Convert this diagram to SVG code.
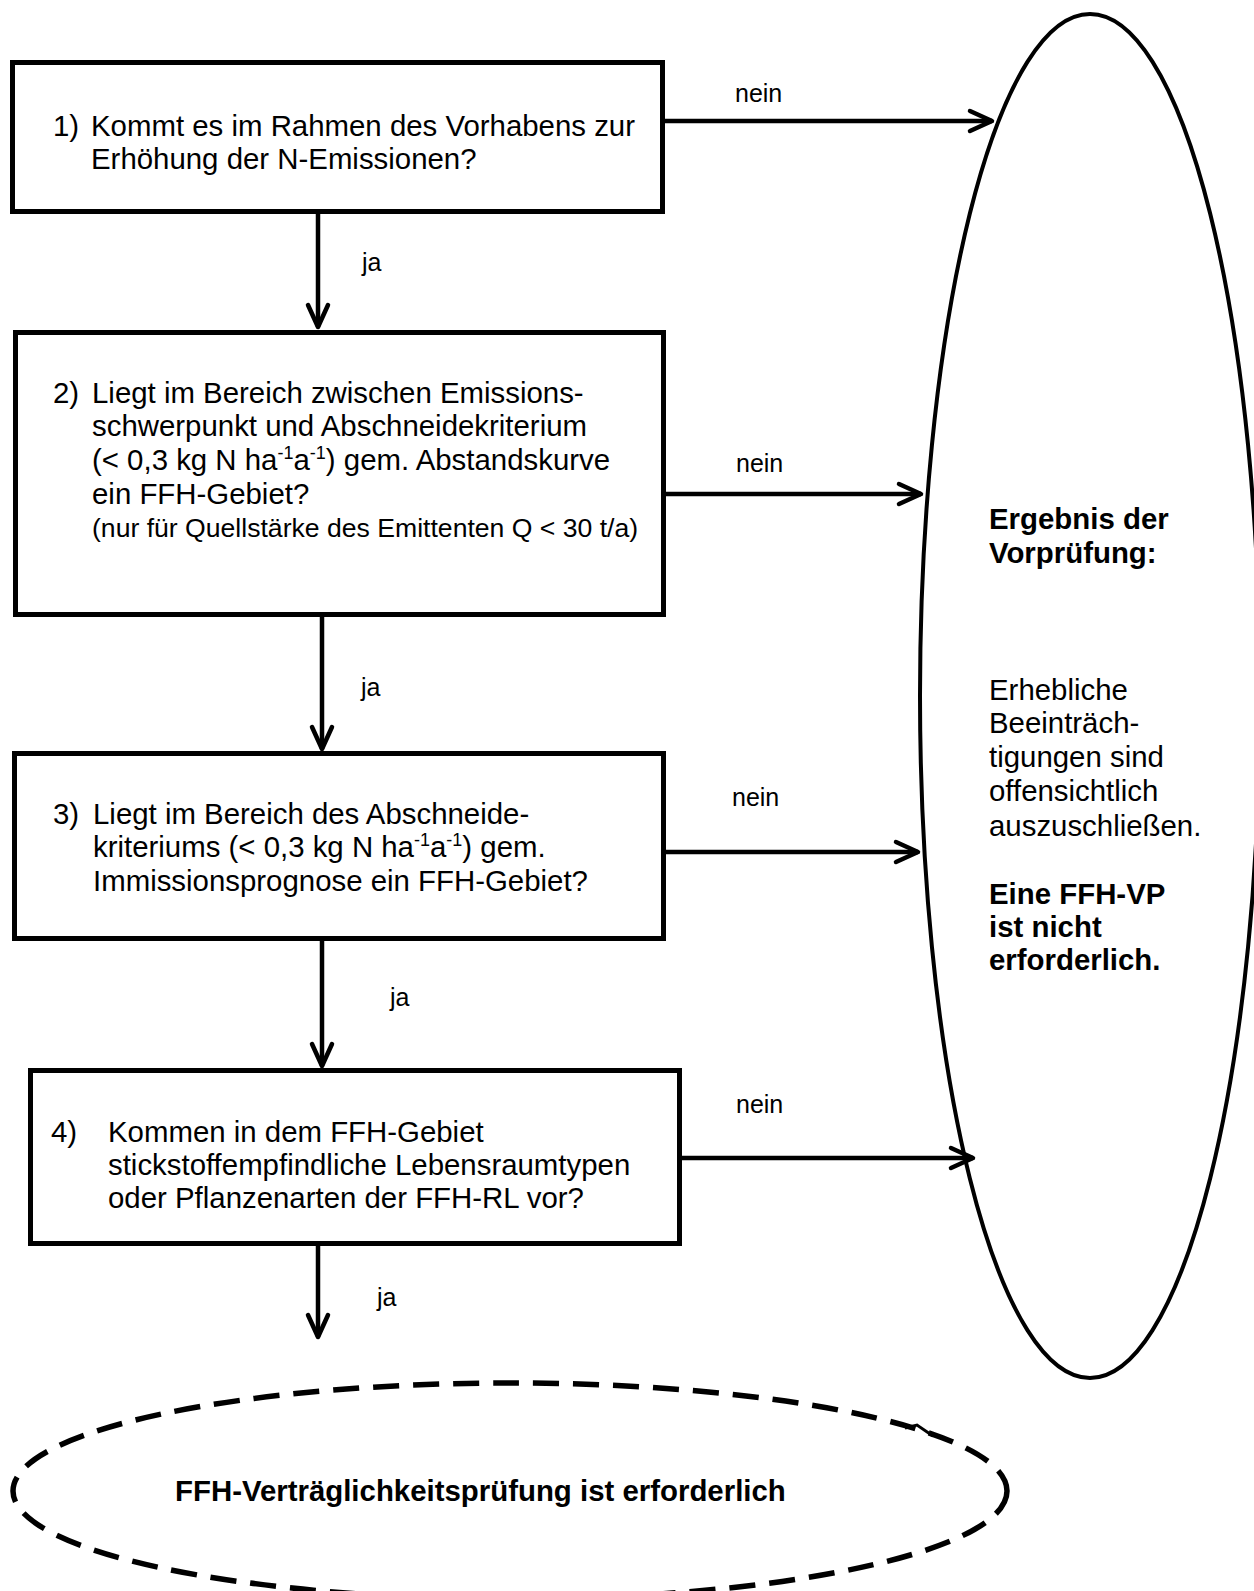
<svg xmlns="http://www.w3.org/2000/svg" width="1254" height="1591" viewBox="0 0 1254 1591">
<style>
.box{fill:#fff;stroke:#000;stroke-width:5}
.t{font-family:"Liberation Sans",Arial,sans-serif;font-size:29.4px;fill:#000}
.sm{font-size:26.6px}
.lbl{font-family:"Liberation Sans",Arial,sans-serif;font-size:25px;fill:#000}
.b{font-weight:bold}
.sup{font-size:18px}
.conn{stroke:#000;stroke-width:4.5;fill:none;marker-end:url(#chev)}
.oval{fill:none;stroke:#000;stroke-width:4}
.dash{fill:none;stroke:#000;stroke-width:5.5;stroke-dasharray:26 14}
</style>
<defs>
<marker id="chev" markerUnits="userSpaceOnUse" markerWidth="40" markerHeight="40" viewBox="-30 -20 40 40" refX="0" refY="0" orient="auto" overflow="visible">
<path d="M -22 -10 L 0 0 L -22 10" fill="none" stroke="#000" stroke-width="4.5" stroke-linecap="round" stroke-linejoin="round"/>
</marker>
</defs>

<g id="result">
<ellipse class="oval" cx="1090" cy="696" rx="170" ry="682"/>
<text class="t b" x="989" y="529">Ergebnis der</text>
<text class="t b" x="989" y="563">Vorprüfung:</text>
<text class="t" x="989" y="700">Erhebliche</text>
<text class="t" x="989" y="733">Beeinträch-</text>
<text class="t" x="989" y="767">tigungen sind</text>
<text class="t" x="989" y="801">offensichtlich</text>
<text class="t" x="989" y="836">auszuschließen.</text>
<text class="t b" x="989" y="904">Eine FFH-VP</text>
<text class="t b" x="989" y="937">ist nicht</text>
<text class="t b" x="989" y="970">erforderlich.</text>
</g>

<g id="q1">
<rect class="box" x="12.5" y="62.5" width="650" height="149"/>
<text class="t" x="53" y="136">1)</text>
<text class="t" x="91" y="136">Kommt es im Rahmen des Vorhabens zur</text>
<text class="t" x="91" y="169">Erhöhung der N-Emissionen?</text>
</g>

<g id="q2">
<rect class="box" x="15.5" y="332.5" width="648" height="282"/>
<text class="t" x="53" y="403">2)</text>
<text class="t" x="92" y="403">Liegt im Bereich zwischen Emissions-</text>
<text class="t" x="92" y="436">schwerpunkt und Abschneidekriterium</text>
<text class="t" x="92" y="470">(&lt; 0,3 kg N ha<tspan class="sup" dy="-11">-1</tspan><tspan dy="11">a</tspan><tspan class="sup" dy="-11">-1</tspan><tspan dy="11">) gem. Abstandskurve</tspan></text>
<text class="t" x="92" y="504">ein FFH-Gebiet?</text>
<text class="t sm" x="92" y="537">(nur für Quellstärke des Emittenten Q &lt; 30 t/a)</text>
</g>

<g id="q3">
<rect class="box" x="14.5" y="753.5" width="649" height="185"/>
<text class="t" x="53" y="824">3)</text>
<text class="t" x="93" y="824">Liegt im Bereich des Abschneide-</text>
<text class="t" x="93" y="857">kriteriums (&lt; 0,3 kg N ha<tspan class="sup" dy="-11">-1</tspan><tspan dy="11">a</tspan><tspan class="sup" dy="-11">-1</tspan><tspan dy="11">) gem.</tspan></text>
<text class="t" x="93" y="891">Immissionsprognose ein FFH-Gebiet?</text>
</g>

<g id="q4">
<rect class="box" x="30.5" y="1070.5" width="649" height="173"/>
<text class="t" x="51" y="1142">4)</text>
<text class="t" x="108" y="1142">Kommen in dem FFH-Gebiet</text>
<text class="t" x="108" y="1175">stickstoffempfindliche Lebensraumtypen</text>
<text class="t" x="108" y="1208">oder Pflanzenarten der FFH-RL vor?</text>
</g>

<g id="vp">
<ellipse class="dash" cx="510" cy="1491" rx="497" ry="108"/>
<path d="M 905 1428 L 917 1425 L 933 1436" fill="none" stroke="#000" stroke-width="3"/>
<text class="t b" x="175" y="1501">FFH-Verträglichkeitsprüfung ist erforderlich</text>
</g>

<g id="connectors">
<line class="conn" x1="663" y1="121" x2="992" y2="121"/>
<line class="conn" x1="318" y1="214" x2="318" y2="327"/>
<line class="conn" x1="665" y1="494" x2="921" y2="494"/>
<line class="conn" x1="322" y1="617" x2="322" y2="749"/>
<line class="conn" x1="665" y1="852" x2="918" y2="852"/>
<line class="conn" x1="322" y1="940" x2="322" y2="1066"/>
<line class="conn" x1="682" y1="1158" x2="973" y2="1158"/>
<line class="conn" x1="318" y1="1246" x2="318" y2="1337"/>
<text class="lbl" x="735" y="102">nein</text>
<text class="lbl" x="362" y="271">ja</text>
<text class="lbl" x="736" y="472">nein</text>
<text class="lbl" x="361" y="696">ja</text>
<text class="lbl" x="732" y="806">nein</text>
<text class="lbl" x="390" y="1006">ja</text>
<text class="lbl" x="736" y="1113">nein</text>
<text class="lbl" x="377" y="1306">ja</text>
</g>
</svg>
